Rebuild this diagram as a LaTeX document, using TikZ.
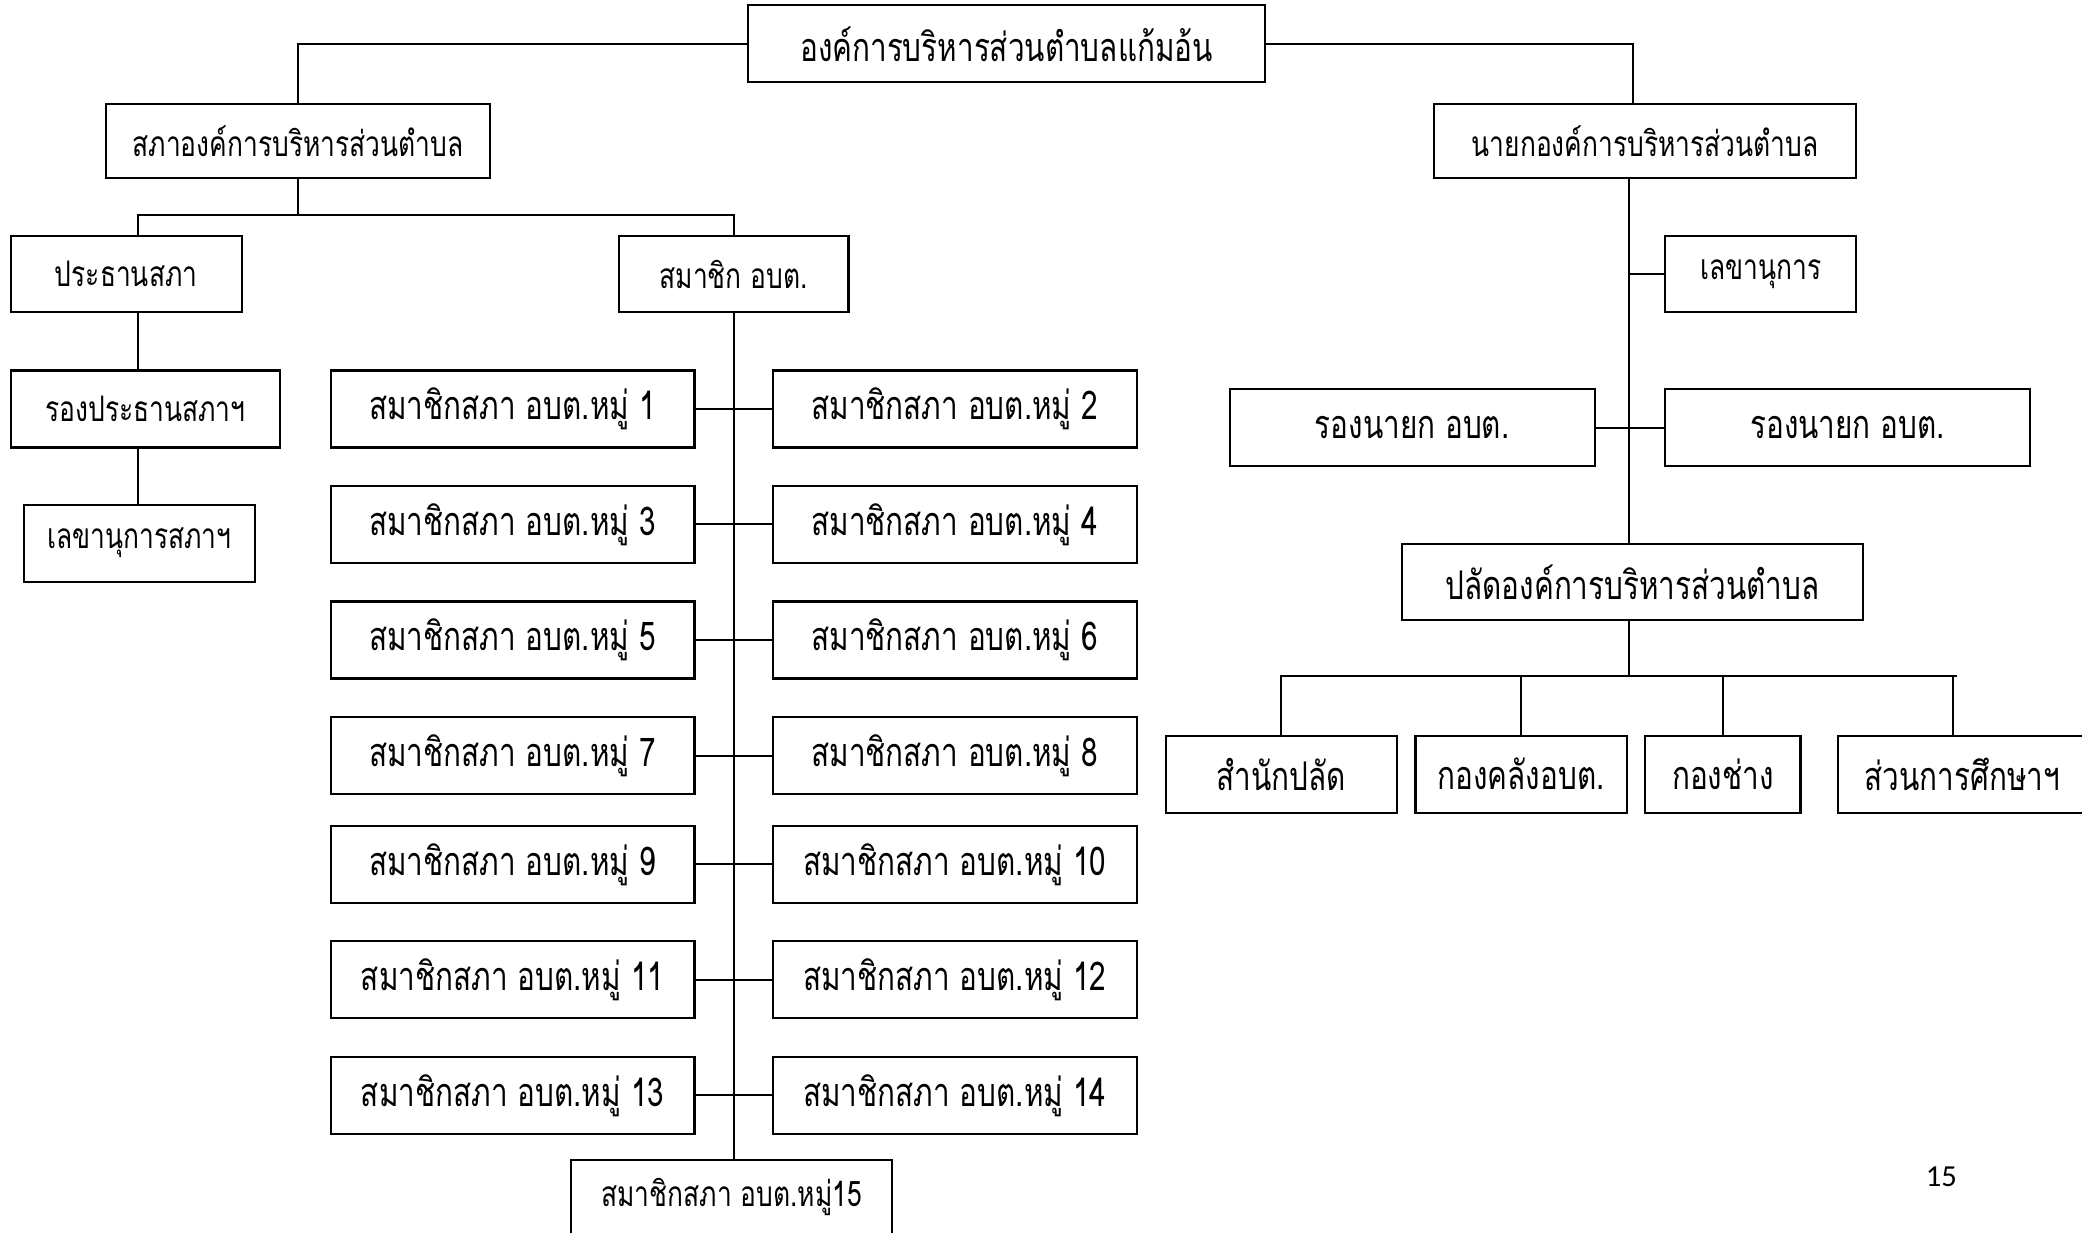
\documentclass[tikz,border=0pt]{standalone}
\usepackage{fontspec}
\newfontfamily\thaifont[Script=Thai,FakeStretch=0.75]{Loma}
\newfontfamily\pagefont{Carlito}
\begin{document}
\begin{tikzpicture}[x=1pt,y=-1pt,
  box/.style={draw,line width=1.6pt,inner sep=0pt,align=center},
  big/.style={font=\thaifont\fontsize{29.8}{32}\selectfont},
  small/.style={font=\thaifont\fontsize{26.5}{29}\selectfont},
  conn/.style={line width=1.5pt}]
\useasboundingbox (0,0) rectangle (1568,928);
% top
\node[box,big,minimum width=390pt,minimum height=58pt] (top) at (758,33) {องค์การบริหารส่วนตำบลแก้มอ้น};
% left side
\node[box,small,minimum width=289pt,minimum height=56pt] (sapha) at (224.5,106) {สภาองค์การบริหารส่วนตำบล};
\node[box,small,minimum width=174pt,minimum height=57pt] (prathan) at (95,206.5) {ประธานสภา};
\node[box,small,minimum width=203pt,minimum height=58pt] (rong) at (109.5,308) {รองประธานสภาฯ};
\node[box,small,minimum width=174pt,minimum height=58pt] (lekhaA) at (105,409) {เลขานุการสภาฯ};
\node[box,small,minimum width=173pt,minimum height=57pt] (samachik) at (552.5,206.5) {สมาชิก อบต.};
% members
\foreach \i/\j/\y in {1/2/308,3/4/395,5/6/482,7/8/569,9/10/651,11/12/738,13/14/825}{
  \node[box,big,minimum width=274pt,minimum height=58pt] (m\i) at (386,\y) {สมาชิกสภา อบต.หมู่ \i};
  \node[box,big,minimum width=274pt,minimum height=58pt] (m\j) at (719,\y) {สมาชิกสภา อบต.หมู่ \j};
  \draw[conn] (m\i.east) -- (m\j.west);
}
\node[box,small,minimum width=242pt,minimum height=80pt,text height=35pt,text depth=45pt,anchor=north] (m15) at (551,873) {สมาชิกสภา อบต.หมู่15};
% right side
\node[box,small,minimum width=318pt,minimum height=56pt] (nayok) at (1239,106) {นายกองค์การบริหารส่วนตำบล};
\node[box,small,minimum width=144pt,minimum height=57pt] (lekhaB) at (1326,206.5) {เลขานุการ};
\node[box,big,minimum width=275pt,minimum height=58pt] (rongL) at (1063.5,322) {รองนายก อบต.};
\node[box,big,minimum width=275pt,minimum height=58pt] (rongR) at (1391.5,322) {รองนายก อบต.};
\node[box,big,minimum width=347pt,minimum height=57pt] (palat) at (1229.5,438.5) {ปลัดองค์การบริหารส่วนตำบล};
\node[box,big,minimum width=174pt,minimum height=58pt] (d1) at (965,583) {สำนักปลัด};
\node[box,big,minimum width=159pt,minimum height=58pt] (d2) at (1145.5,583) {กองคลังอบต.};
\node[box,big,minimum width=117pt,minimum height=58pt] (d3) at (1297.5,583) {กองช่าง};
\node[box,big,minimum width=188pt,minimum height=58pt] (d4) at (1478,583) {ส่วนการศึกษาฯ};
\node[font=\pagefont\fontsize{23}{26}\selectfont] (page) at (1462,886) {15};
% helper coordinates
\coordinate (cx) at (104,0);
\coordinate (b1) at (224.5,162);
\coordinate (rx) at (1227,0);
\coordinate (tr) at (1230,0);
\coordinate (b2) at (1227,509);
\coordinate (busR) at (1474,509);
\coordinate (d4x) at (1471,509);
% connectors
\draw[conn] (top.west) -| (sapha.north);
\draw[conn] (top.east) -| (nayok.north -| tr);
\draw[conn] (sapha.south) -- (b1);
\draw[conn] (prathan.north -| cx) |- (samachik.north |- b1) -- (samachik.north);
\draw[conn] (prathan.south -| cx) -- (rong.north -| cx);
\draw[conn] (rong.south -| cx) -- (lekhaA.north -| cx);
\draw[conn] (samachik.south) -- (samachik.south |- m15.north);
\draw[conn] (nayok.south -| rx) -- (palat.north -| rx);
\draw[conn] (lekhaB.west) -- (lekhaB.west -| rx);
\draw[conn] (rongL.east) -- (rongR.west);
\draw[conn] (palat.south -| rx) -- (b2);
\draw[conn] (d1.north) |- (busR);
\draw[conn] (d2.north) -- (d2.north |- b2);
\draw[conn] (d3.north) -- (d3.north |- b2);
\draw[conn] (d4x) -- (d4x |- d4.north);
\end{tikzpicture}
\end{document}
